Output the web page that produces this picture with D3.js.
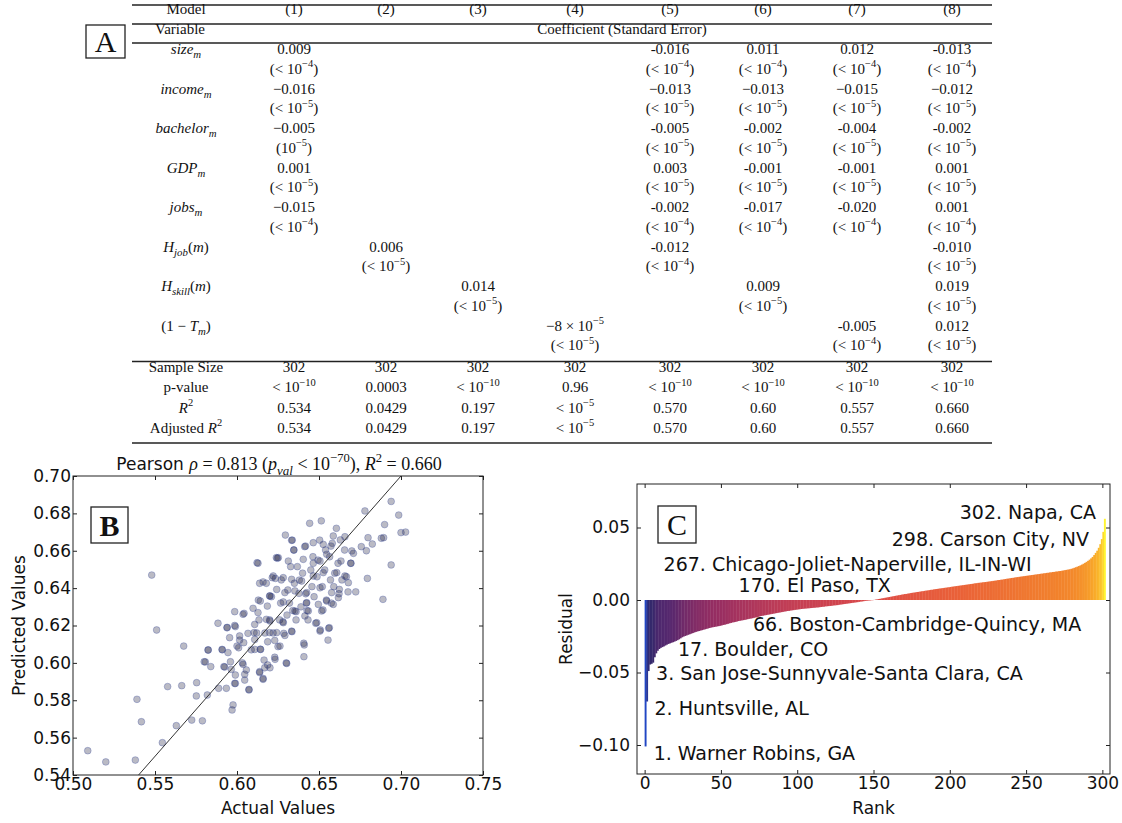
<!DOCTYPE html>
<html>
<head>
<meta charset="utf-8">
<script src="https://cdn.jsdelivr.net/npm/d3@7"></script>
<style>
  body { margin: 0; background: #fff; }
  svg { display: block; }
  .serif { font-family: "Liberation Serif", "Times New Roman", serif; }
  .sans { font-family: "DejaVu Sans", sans-serif; }
</style>
</head>
<body>
<svg id="fig" width="1122" height="823"></svg>
<script>
// ---------------- data: panel A (regression table) ----------------
const modelLabels = ["(1)", "(2)", "(3)", "(4)", "(5)", "(6)", "(7)", "(8)"];
const variableLabels = ["*size*_{m}", "*income*_{m}", "*bachelor*_{m}", "*GDP*_{m}", "*jobs*_{m}",
  "*H*_{job}(*m*)", "*H*_{skill}(*m*)", "(1 − *T*_{m})"];
const coefValues = [
  ["0.009", null, null, null, "-0.016", "0.011", "0.012", "-0.013"],
  ["−0.016", null, null, null, "−0.013", "−0.013", "−0.015", "−0.012"],
  ["−0.005", null, null, null, "-0.005", "-0.002", "-0.004", "-0.002"],
  ["0.001", null, null, null, "0.003", "-0.001", "-0.001", "0.001"],
  ["−0.015", null, null, null, "-0.002", "-0.017", "-0.020", "0.001"],
  [null, "0.006", null, null, "-0.012", null, null, "-0.010"],
  [null, null, "0.014", null, null, "0.009", null, "0.019"],
  [null, null, null, "−8 × 10^{−5}", null, null, "-0.005", "0.012"]
];
const stdErrors = [
  ["(< 10^{−4})", null, null, null, "(< 10^{−4})", "(< 10^{−4})", "(< 10^{−4})", "(< 10^{−4})"],
  ["(< 10^{−5})", null, null, null, "(< 10^{−5})", "(< 10^{−5})", "(< 10^{−5})", "(< 10^{−5})"],
  ["(10^{−5})", null, null, null, "(< 10^{−5})", "(< 10^{−5})", "(< 10^{−5})", "(< 10^{−5})"],
  ["(< 10^{−5})", null, null, null, "(< 10^{−5})", "(< 10^{−5})", "(< 10^{−5})", "(< 10^{−5})"],
  ["(< 10^{−4})", null, null, null, "(< 10^{−4})", "(< 10^{−4})", "(< 10^{−4})", "(< 10^{−4})"],
  [null, "(< 10^{−5})", null, null, "(< 10^{−4})", null, null, "(< 10^{−5})"],
  [null, null, "(< 10^{−5})", null, null, "(< 10^{−5})", null, "(< 10^{−5})"],
  [null, null, null, "(< 10^{−5})", null, null, "(< 10^{−4})", "(< 10^{−5})"]
];
const statLabels = ["Sample Size", "p-value", "*R*^{2}", "Adjusted *R*^{2}"];
const statValues = [
  ["302", "302", "302", "302", "302", "302", "302", "302"],
  ["< 10^{−10}", "0.0003", "< 10^{−10}", "0.96", "< 10^{−10}", "< 10^{−10}", "< 10^{−10}", "< 10^{−10}"],
  ["0.534", "0.0429", "0.197", "< 10^{−5}", "0.570", "0.60", "0.557", "0.660"],
  ["0.534", "0.0429", "0.197", "< 10^{−5}", "0.570", "0.60", "0.557", "0.660"]
];

// ---------------- data: panel B (actual vs predicted) ----------------
const bTicksX = [0.50, 0.55, 0.60, 0.65, 0.70, 0.75];
const bTicksY = [0.54, 0.56, 0.58, 0.60, 0.62, 0.64, 0.66, 0.68, 0.70];
const fitLine = [0.54, 0.70];  // identity line
const scatterPoints = [
  [0.509,0.553],[0.520,0.547],[0.538,0.548],[0.539,0.5805],[0.5417,0.5685],[0.548,0.647],[0.551,0.6176],
  [0.5545,0.5573],[0.5577,0.5873],[0.563,0.5664],[0.5663,0.5878],[0.5675,0.609],[0.5724,0.5694],[0.5754,0.5894],
  [0.5752,0.5823],[0.5789,0.569],[0.5819,0.5828],[0.5825,0.6069],[0.580,0.6006],[0.584,0.598],[0.5884,0.6212],
  [0.591,0.607],[0.592,0.598],[0.5935,0.5864],[0.594,0.619],[0.596,0.6006],[0.597,0.5748],[0.5976,0.5775],
  [0.5986,0.620],[0.5986,0.6274],[0.599,0.589],[0.600,0.609],[0.6016,0.6122],[0.6033,0.600],[0.6043,0.6265],
  [0.6047,0.5908],[0.6057,0.5962],[0.6073,0.5855],[0.6067,0.6158],[0.6087,0.607],[0.6098,0.6292],[0.6108,0.6125],
  [0.612,0.616],[0.613,0.6336],[0.6134,0.623],[0.6138,0.5953],[0.6142,0.6073],[0.6159,0.5917],[0.6165,0.6015],
  [0.617,0.616],[0.6179,0.6426],[0.6122,0.6536],[0.6187,0.6113],[0.6187,0.5989],[0.6199,0.623],[0.621,0.6354],
  [0.622,0.616],[0.623,0.603],[0.623,0.612],[0.6234,0.6452],[0.6246,0.656],[0.625,0.6087],[0.626,0.623],
  [0.6266,0.632],[0.627,0.6444],[0.628,0.622],[0.6285,0.6158],[0.6295,0.6684],[0.630,0.600],[0.6305,0.6256],
  [0.631,0.639],[0.632,0.632],[0.6327,0.6515],[0.6335,0.6167],[0.6337,0.6657],[0.634,0.628],[0.6346,0.6604],
  [0.635,0.6426],[0.636,0.6274],[0.636,0.623],[0.6368,0.6515],[0.6378,0.6372],[0.638,0.6443],[0.639,0.630],
  [0.640,0.648],[0.6407,0.6105],[0.6408,0.6033],[0.6413,0.6622],[0.6419,0.637],[0.6423,0.632],[0.6427,0.628],
  [0.6433,0.623],[0.6443,0.6747],[0.645,0.6497],[0.6457,0.6408],[0.6463,0.6568],[0.647,0.6354],[0.648,0.6212],
  [0.6488,0.6461],[0.6494,0.655],[0.6504,0.6657],[0.6514,0.676],[0.6508,0.6176],[0.652,0.6408],[0.6524,0.6283],
  [0.6535,0.6497],[0.654,0.6604],[0.6545,0.6336],[0.6555,0.6122],[0.6559,0.6185],[0.6565,0.6568],[0.657,0.6444],
  [0.6575,0.632],[0.6581,0.664],[0.659,0.6408],[0.6596,0.648],[0.6606,0.672],[0.6616,0.6533],[0.6622,0.637],
  [0.663,0.6658],[0.664,0.6444],[0.6656,0.6604],[0.6667,0.6461],[0.6677,0.638],[0.6693,0.6533],[0.671,0.6586],
  [0.6724,0.638],[0.6758,0.6622],[0.678,0.6813],[0.6789,0.660],[0.6795,0.6452],[0.6799,0.667],[0.6825,0.6636],
  [0.688,0.6667],[0.6894,0.667],[0.689,0.634],[0.690,0.674],[0.694,0.6864],[0.694,0.6524],[0.6986,0.6791],
  [0.700,0.6697],[0.7028,0.670],
  [0.6333,0.6656],[0.6587,0.6679],[0.6658,0.6675],[0.6418,0.6625],[0.6465,0.6643],[0.6526,0.6634],[0.6573,0.6625],
  [0.6700,0.6599],[0.6347,0.6604],[0.6252,0.6563],[0.6313,0.6545],[0.6404,0.6554],[0.6465,0.6533],[0.6506,0.6545],
  [0.6547,0.6581],[0.6634,0.6545],[0.6695,0.6533],[0.6221,0.6465],[0.6282,0.6456],[0.6333,0.6447],[0.6394,0.6438],
  [0.6465,0.6465],[0.6526,0.6483],[0.6608,0.6483],[0.6658,0.6465],[0.6679,0.6429],[0.6242,0.6393],[0.6292,0.6376],
  [0.6353,0.6385],[0.6425,0.6376],[0.6506,0.6402],[0.6577,0.6376],[0.6624,0.6393],[0.6201,0.6358],[0.6282,0.6326],
  [0.6425,0.6322],[0.6547,0.6331],[0.6618,0.6349],[0.6496,0.6313],[0.6353,0.6278],[0.6435,0.6278],[0.6516,0.6278],
  [0.6587,0.6313],[0.6201,0.6224],[0.6282,0.6215],[0.6414,0.6251],[0.6486,0.6215],[0.6563,0.6188],[0.6506,0.6170],
  [0.6242,0.6162],[0.6333,0.6170],[0.6292,0.6147],[0.6262,0.6090],[0.6410,0.6096],[0.6303,0.5997],[0.6232,0.6019],
  [0.6201,0.5974],
  [0.5823,0.6069],[0.5939,0.6188],[0.5990,0.6194],[0.6037,0.6260],[0.5955,0.6135],[0.6016,0.6144],[0.5909,0.6072],
  [0.5945,0.6055],[0.6010,0.6081],[0.6041,0.6108],[0.5807,0.6005],[0.5925,0.5978],[0.5965,0.5965],[0.6037,0.5992],
  [0.6047,0.5939],[0.5990,0.5935],[0.5986,0.5890],[0.6138,0.5948],[0.6104,0.6162],[0.6108,0.6206],[0.6128,0.6269],
  [0.6142,0.6331],[0.6185,0.6304],[0.6179,0.6233],[0.6199,0.6162],[0.6169,0.5974],[0.6144,0.6072],[0.6108,0.6072],
  [0.6128,0.6533],[0.6138,0.6426],[0.6159,0.6433],[0.6215,0.6456],[0.6199,0.6358],[0.6240,0.6563],[0.5888,0.5864],
  [0.6073,0.5858],[0.6159,0.5912]
];

// ---------------- data: panel C (sorted residuals, rank 1..302) ----------------
const cTicksX = [0, 50, 100, 150, 200, 250, 300];
const cTicksY = [-0.10, -0.05, 0.00, 0.05];
const residuals = [
  -0.101, -0.070, -0.049, -0.0445, -0.0440, -0.0432, -0.0395, -0.0368, -0.0350, -0.0338,
  -0.0330, -0.0325, -0.0320, -0.0314, -0.0308, -0.0303, -0.0299, -0.0295, -0.0291, -0.0287,
  -0.0282, -0.0277, -0.0271, -0.0264, -0.0257, -0.0252, -0.0248, -0.0244, -0.0240, -0.0236,
  -0.0232, -0.0228, -0.0224, -0.0220, -0.0217, -0.0214, -0.0211, -0.0208, -0.0205, -0.0202,
  -0.0199, -0.0196, -0.0193, -0.0190, -0.0188, -0.0186, -0.0184, -0.0182, -0.0180, -0.0178,
  -0.0175, -0.0172, -0.0170, -0.0167, -0.0164, -0.0161, -0.0158, -0.0155, -0.0153, -0.0151,
  -0.0148, -0.0145, -0.0143, -0.0141, -0.0139, -0.0137, -0.0135, -0.0132, -0.0130, -0.0128,
  -0.0126, -0.0123, -0.0121, -0.0119, -0.0116, -0.0112, -0.0110, -0.0108, -0.0106, -0.0104,
  -0.0102, -0.0100, -0.0098, -0.0096, -0.0094, -0.0092, -0.0090, -0.0088, -0.0086, -0.0084,
  -0.0082, -0.0080, -0.0078, -0.0076, -0.0075, -0.0073, -0.0071, -0.0070, -0.0068, -0.0067,
  -0.0065, -0.0064, -0.0062, -0.0061, -0.0060, -0.0059, -0.0058, -0.0057, -0.0056, -0.0055,
  -0.0054, -0.0053, -0.0052, -0.0051, -0.0050, -0.0048, -0.0047, -0.0046, -0.0044, -0.0043,
  -0.0042, -0.0041, -0.0040, -0.0038, -0.0037, -0.0036, -0.0035, -0.0033, -0.0031, -0.0030,
  -0.0028, -0.0027, -0.0025, -0.0024, -0.0022, -0.0021, -0.0019, -0.0018, -0.0016, -0.0015,
  -0.0013, -0.0011, -0.0010, -0.0008, -0.0006, -0.0005, -0.0004, -0.0003, -0.0002, -0.0001,
  0.0001, 0.0003, 0.0005, 0.0007, 0.0009, 0.0011, 0.0013, 0.0015, 0.0017, 0.0019,
  0.0021, 0.0023, 0.0025, 0.0027, 0.0029, 0.0031, 0.0033, 0.0035, 0.0037, 0.0039,
  0.0041, 0.0042, 0.0044, 0.0046, 0.0048, 0.0050, 0.0051, 0.0053, 0.0055, 0.0056,
  0.0058, 0.0060, 0.0061, 0.0063, 0.0065, 0.0066, 0.0068, 0.0070, 0.0071, 0.0073,
  0.0075, 0.0076, 0.0078, 0.0079, 0.0081, 0.0082, 0.0084, 0.0085, 0.0087, 0.0088,
  0.0090, 0.0092, 0.0093, 0.0095, 0.0096, 0.0098, 0.0099, 0.0101, 0.0102, 0.0104,
  0.0105, 0.0107, 0.0108, 0.0110, 0.0111, 0.0113, 0.0115, 0.0116, 0.0118, 0.0119,
  0.0120, 0.0122, 0.0123, 0.0124, 0.0126, 0.0127, 0.0129, 0.0130, 0.0132, 0.0133,
  0.0135, 0.0137, 0.0138, 0.0140, 0.0141, 0.0143, 0.0145, 0.0147, 0.0148, 0.0150,
  0.0152, 0.0153, 0.0155, 0.0157, 0.0158, 0.0160, 0.0161, 0.0163, 0.0164, 0.0166,
  0.0167, 0.0169, 0.0170, 0.0172, 0.0173, 0.0175, 0.0176, 0.0178, 0.0179, 0.0181,
  0.0182, 0.0184, 0.0185, 0.0187, 0.0188, 0.0190, 0.0191, 0.0193, 0.0194, 0.0196,
  0.0197, 0.0199, 0.0200, 0.0202, 0.0204, 0.0206, 0.0208, 0.0210, 0.0212, 0.0215,
  0.0218, 0.0222, 0.0226, 0.0230, 0.0234, 0.0239, 0.0244, 0.0250, 0.0256, 0.0263,
  0.0270, 0.0278, 0.0287, 0.0297, 0.0310, 0.0325, 0.0340, 0.0360, 0.0385, 0.0420,
  0.0470, 0.0560
];
const cityLabels = ["302. Napa, CA", "298. Carson City, NV", "267. Chicago-Joliet-Naperville, IL-IN-WI",
  "170. El Paso, TX", "66. Boston-Cambridge-Quincy, MA", "17. Boulder, CO",
  "3. San Jose-Sunnyvale-Santa Clara, CA", "2. Huntsville, AL", "1. Warner Robins, GA"];
// annotation anchors in data units: [rank, residual, text-anchor]
const cityAnchors = [[295.8, 0.0607, "end"], [291.2, 0.0421, "end"], [12.4, 0.0248, "start"],
  [61.6, 0.0103, "start"], [71.0, -0.0166, "start"], [21.9, -0.0338, "start"],
  [7.5, -0.0503, "start"], [6.5, -0.0745, "start"], [5.9, -0.1055, "start"]];
const residualColorStops = [-0.10, -0.065, -0.045, -0.03, -0.018, -0.008, 0, 0.01, 0.02, 0.03, 0.045, 0.056];
const residualColors = ["#2146c4", "#2a3590", "#33296c", "#56286e", "#982e62", "#c03d56", "#dc4a48",
  "#ea6238", "#f2832c", "#f8a62a", "#fdd22c", "#fff430"];

const svg = d3.select("#fig");

// rich text: *italic*, ^{sup}, _{sub}
function rich(textSel, str, fs) {
  let off = 0;
  str.split(/(\^\{[^}]*\}|_\{[^}]*\}|\*[^*]*\*)/).forEach(p => {
    if (!p) return;
    let target = 0, size = fs, txt = p, ital = false;
    if (p[0] === "^") { target = -0.42 * fs; size = 0.7 * fs; txt = p.slice(2, -1); }
    else if (p[0] === "_") { target = 0.28 * fs; size = 0.72 * fs; txt = p.slice(2, -1); ital = true; }
    else if (p[0] === "*") { ital = true; txt = p.slice(1, -1); }
    const t = textSel.append("tspan").attr("dy", target - off).attr("font-size", size).text(txt);
    if (ital) t.attr("font-style", "italic");
    off = target;
  });
}

// ======================= Panel A =======================
const tbl = svg.append("g").attr("class", "serif").attr("fill", "#111");
const tblX0 = 132, tblX1 = 992;
const labelX = 186;
const colX = d3.scaleOrdinal().domain(modelLabels).range([294, 386, 478, 575, 670, 763, 857, 952]);
const lineY = k => 54 + 19.75 * k;
const fsT = 15;

[5, 24, 43, 361.5, 443].forEach(y => {
  tbl.append("line").attr("x1", tblX0).attr("x2", tblX1).attr("y1", y).attr("y2", y)
    .attr("stroke", "#222").attr("stroke-width", 1.5);
});

function cell(x, y, str) {
  const t = tbl.append("text").attr("x", x).attr("y", y).attr("dy", "0.35em")
    .attr("text-anchor", "middle").attr("font-size", fsT);
  rich(t, str, fsT);
}

cell(labelX, 14, "Model");
modelLabels.forEach(m => cell(colX(m), 14, m));
cell(labelX - 6, 33.5, "Variable");
cell(622, 33.5, "Coefficient (Standard Error)");

variableLabels.forEach((v, i) => {
  cell(labelX, lineY(2 * i), v);
  modelLabels.forEach((m, j) => {
    if (coefValues[i][j]) cell(colX(m), lineY(2 * i), coefValues[i][j]);
    if (stdErrors[i][j]) cell(colX(m), lineY(2 * i + 1), stdErrors[i][j]);
  });
});

const statY = [372, 392, 412.5, 432.5];
statLabels.forEach((s, i) => {
  cell(labelX, statY[i], s);
  modelLabels.forEach((m, j) => cell(colX(m), statY[i], statValues[i][j]));
});

// box A
svg.append("rect").attr("x", 86).attr("y", 25).attr("width", 39).attr("height", 33)
  .attr("fill", "none").attr("stroke", "#222").attr("stroke-width", 1.3);
svg.append("text").attr("class", "serif").attr("x", 105.5).attr("y", 41.5).attr("dy", "0.35em")
  .attr("text-anchor", "middle").attr("font-size", 30).attr("fill", "#111").text("A");

// ======================= Panel B =======================
const bL = 73, bR = 483, bT = 476, bB = 775;
const xB = d3.scaleLinear().domain([0.50, 0.75]).range([bL, bR]);
const yB = d3.scaleLinear().domain([0.54, 0.70]).range([bB, bT]);
const gB = svg.append("g");

gB.append("defs").append("clipPath").attr("id", "clipB")
  .append("rect").attr("x", bL).attr("y", bT).attr("width", bR - bL).attr("height", bB - bT);

gB.append("g").attr("clip-path", "url(#clipB)").selectAll("circle")
  .data(scatterPoints).join("circle")
  .attr("cx", d => xB(d[0])).attr("cy", d => yB(d[1])).attr("r", 3.4)
  .attr("fill", "#1a1a3a").attr("fill-opacity", 0.3)
  .attr("stroke", "#3a4aa0").attr("stroke-opacity", 0.4).attr("stroke-width", 0.8);

gB.append("line").attr("clip-path", "url(#clipB)")
  .attr("x1", xB(fitLine[0])).attr("y1", yB(fitLine[0]))
  .attr("x2", xB(fitLine[1])).attr("y2", yB(fitLine[1]))
  .attr("stroke", "#333").attr("stroke-width", 1);

function styleAxis(g, fs) {
  g.select(".domain").remove();
  g.selectAll(".tick line").attr("stroke", "#222");
  g.selectAll(".tick text").attr("class", "sans").attr("font-size", fs).attr("fill", "#111");
}

gB.append("g").attr("transform", `translate(0,${bB})`)
  .call(d3.axisBottom(xB).tickValues(bTicksX).tickFormat(d3.format(".2f")).tickSize(-4).tickPadding(4))
  .call(g => styleAxis(g, 17))
  .call(g => g.selectAll(".tick text").attr("dy", "0.62em"));
gB.append("g").attr("transform", `translate(0,${bT})`)
  .call(d3.axisTop(xB).tickValues(bTicksX).tickFormat("").tickSize(-4))
  .call(g => styleAxis(g, 17));
gB.append("g").attr("transform", `translate(${bL},0)`)
  .call(d3.axisLeft(yB).tickValues(bTicksY).tickFormat(d3.format(".2f")).tickSize(-4).tickPadding(2))
  .call(g => styleAxis(g, 17));
gB.append("g").attr("transform", `translate(${bR},0)`)
  .call(d3.axisRight(yB).tickValues(bTicksY).tickFormat("").tickSize(-4))
  .call(g => styleAxis(g, 17));

gB.append("rect").attr("x", bL).attr("y", bT).attr("width", bR - bL).attr("height", bB - bT)
  .attr("fill", "none").attr("stroke", "#222").attr("stroke-width", 1);

gB.append("text").attr("class", "sans").attr("x", (bL + bR) / 2).attr("y", 808).attr("dy", "0.35em")
  .attr("text-anchor", "middle").attr("font-size", 17).attr("fill", "#111").text("Actual Values");
gB.append("text").attr("class", "sans").attr("transform", `translate(19,${(bT + bB) / 2}) rotate(-90)`)
  .attr("dy", "0.35em").attr("text-anchor", "middle").attr("font-size", 17).attr("fill", "#111")
  .text("Predicted Values");

// title
const tt = gB.append("text").attr("x", (bL + bR) / 2 + 1).attr("y", 464).attr("dy", "0.35em")
  .attr("text-anchor", "middle").attr("font-size", 17).attr("fill", "#111");
tt.append("tspan").attr("class", "sans").text("Pearson ");
const ttm = tt.append("tspan").attr("class", "serif");
rich(ttm, "*ρ* = 0.813 (*p*_{val} < 10^{−70}), *R*^{2} = 0.660", 18);

svg.append("rect").attr("x", 91).attr("y", 507).attr("width", 37).attr("height", 36)
  .attr("fill", "#fff").attr("stroke", "#222").attr("stroke-width", 1.3);
svg.append("text").attr("class", "serif").attr("x", 109.5).attr("y", 525).attr("dy", "0.35em")
  .attr("text-anchor", "middle").attr("font-size", 30).attr("font-weight", "bold").attr("fill", "#111").text("B");

// ======================= Panel C =======================
const cL = 637, cR = 1110, cT = 484, cB = 774;
const xC = d3.scaleLinear().domain([-5, 305]).range([cL, cR]);
const yC = d3.scaleLinear().domain([-0.12, 0.08]).range([cB, cT]);
const colorC = d3.scaleLinear().domain(residualColorStops).range(residualColors).clamp(true);
const gC = svg.append("g");

gC.append("g").selectAll("rect").data(residuals).join("rect")
  .attr("x", (d, i) => xC(i))
  .attr("width", (d, i) => xC(i + 1) - xC(i) + 0.4)
  .attr("y", d => yC(Math.max(0, d)))
  .attr("height", d => Math.abs(yC(d) - yC(0)))
  .attr("fill", d => colorC(d));

gC.append("g").attr("transform", `translate(0,${cB})`)
  .call(d3.axisBottom(xC).tickValues(cTicksX).tickSize(-4).tickPadding(4))
  .call(g => styleAxis(g, 17))
  .call(g => g.selectAll(".tick text").attr("dy", "0.62em"));
gC.append("g").attr("transform", `translate(0,${cT})`)
  .call(d3.axisTop(xC).tickValues(cTicksX).tickFormat("").tickSize(-4))
  .call(g => styleAxis(g, 17));
gC.append("g").attr("transform", `translate(${cL},0)`)
  .call(d3.axisLeft(yC).tickValues(cTicksY).tickFormat(d3.format(".2f")).tickSize(-4).tickPadding(7))
  .call(g => styleAxis(g, 17));
gC.append("g").attr("transform", `translate(${cR},0)`)
  .call(d3.axisRight(yC).tickValues(cTicksY).tickFormat("").tickSize(-4))
  .call(g => styleAxis(g, 17));

gC.append("rect").attr("x", cL).attr("y", cT).attr("width", cR - cL).attr("height", cB - cT)
  .attr("fill", "none").attr("stroke", "#222").attr("stroke-width", 1);

gC.append("text").attr("class", "sans").attr("x", (cL + cR) / 2).attr("y", 808).attr("dy", "0.35em")
  .attr("text-anchor", "middle").attr("font-size", 17).attr("fill", "#111").text("Rank");
gC.append("text").attr("class", "sans").attr("transform", `translate(566,${(cT + cB) / 2}) rotate(-90)`)
  .attr("dy", "0.35em").attr("text-anchor", "middle").attr("font-size", 17).attr("fill", "#111")
  .text("Residual");

gC.append("g").selectAll("text").data(cityLabels).join("text")
  .attr("class", "sans")
  .attr("x", (d, i) => xC(cityAnchors[i][0]))
  .attr("y", (d, i) => yC(cityAnchors[i][1]))
  .attr("dy", "0.35em")
  .attr("text-anchor", (d, i) => cityAnchors[i][2])
  .attr("font-size", 19).attr("fill", "#111")
  .text(d => d);

svg.append("rect").attr("x", 658).attr("y", 506).attr("width", 38).attr("height", 37)
  .attr("fill", "#fff").attr("stroke", "#222").attr("stroke-width", 1.3);
svg.append("text").attr("class", "serif").attr("x", 677).attr("y", 524.5).attr("dy", "0.35em")
  .attr("text-anchor", "middle").attr("font-size", 30).attr("fill", "#111").text("C");
</script>
</body>
</html>
